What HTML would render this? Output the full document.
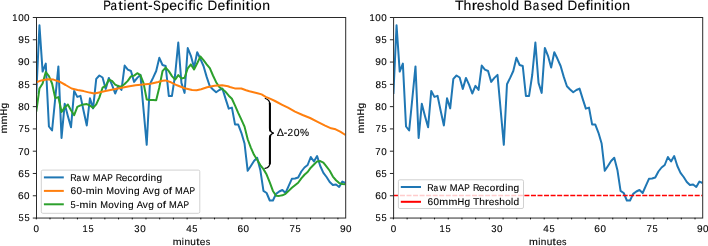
<!DOCTYPE html><html><head><meta charset="utf-8"><style>html,body{margin:0;padding:0;background:#fff;overflow:hidden}svg{display:block}</style></head><body>
<svg width="708" height="246" viewBox="0 0 708 246">
<rect width="708" height="246" fill="#fff"/>
<defs>
<clipPath id="cl"><rect x="36.3" y="17.3" width="309.20" height="200.50"/></clipPath>
<clipPath id="cr"><rect x="393.4" y="17.3" width="309.10" height="200.50"/></clipPath>
</defs>
<g fill="none" stroke="#000" stroke-linecap="round"><path d="M265.3,98.5 C268.4,99.3 269.9,101.3 269.9,104.6 L269.9,128.3 C269.9,131.2 271.4,132.7 273.8,133.2 C271.4,133.7 269.9,135.2 269.9,138.1 L269.9,162.4 C269.9,165.8 268.3,167.7 265.0,168.3" stroke-width="1.25"/><path d="M269.75,102.8 L269.9,105 L269.9,128.3 C269.9,129.6 270.1,130.5 270.5,131.2" stroke-width="2.0" stroke-linecap="butt"/><path d="M270.5,135.2 C270.1,135.9 269.9,136.8 269.9,138.1 L269.9,162.4 L269.75,164.4" stroke-width="2.0" stroke-linecap="butt"/></g>
<g clip-path="url(#cl)" fill="none" stroke-linejoin="round" stroke-width="2">
<polyline points="36.30,93.90 39.45,25.30 42.61,71.60 45.77,63.60 48.92,126.50 52.07,130.50 55.23,98.50 58.38,66.40 61.54,137.90 64.69,103.80 67.85,116.00 71.00,127.30 74.16,90.90 77.31,96.90 80.47,95.90 83.62,111.00 86.78,125.50 89.94,98.30 93.09,108.40 96.24,78.90 99.40,75.50 102.55,77.50 105.71,88.90 108.86,77.90 112.02,84.90 115.17,93.50 118.33,85.90 121.48,89.90 124.64,65.60 127.79,69.60 130.95,71.00 134.10,81.90 137.26,77.90 140.41,74.90 143.57,110.00 146.72,144.80 149.88,84.30 153.03,77.90 156.19,71.00 159.34,57.80 162.50,65.00 165.65,66.00 168.81,95.90 171.96,95.90 175.12,75.00 178.27,42.50 181.43,82.90 184.58,92.90 187.74,48.00 190.89,55.80 194.05,67.60 197.20,52.20 200.36,58.80 203.51,66.00 206.67,76.90 209.82,86.30 212.98,89.50 216.13,92.20 219.29,90.00 222.44,88.60 225.60,98.90 228.75,108.60 231.91,107.60 235.06,124.60 238.22,124.60 241.38,132.80 244.53,143.50 247.69,170.80 250.84,166.00 254.00,161.00 257.15,157.80 260.31,169.90 263.46,190.90 266.62,193.00 269.77,200.50 272.92,200.50 276.08,193.90 279.23,191.50 282.39,190.00 285.54,193.00 288.70,185.90 291.85,178.80 295.01,178.50 298.17,177.50 301.32,171.50 304.48,167.50 307.63,165.00 310.78,157.00 313.94,161.50 317.09,156.00 320.25,166.00 323.40,172.80 326.56,177.00 329.71,182.00 332.87,185.00 336.02,184.50 339.18,187.00 342.33,181.60 345.49,183.00" stroke="#1f77b4"/>
<polyline points="36.30,111.50 39.45,88.50 42.61,83.50 45.77,72.00 48.92,76.18 52.07,83.50 55.23,98.14 58.38,97.10 61.54,111.96 64.69,107.42 67.85,104.52 71.00,110.28 74.16,115.18 77.31,106.98 80.47,105.40 83.62,104.40 86.78,104.04 89.94,105.52 93.09,107.82 96.24,104.42 99.40,97.32 102.55,87.72 105.71,85.84 108.86,79.74 112.02,80.94 115.17,84.54 118.33,86.22 121.48,86.42 124.64,83.96 127.79,80.90 130.95,76.40 134.10,75.60 137.26,73.20 140.41,75.06 143.57,83.14 146.72,99.50 149.88,100.00 153.03,100.00 156.19,100.20 159.34,87.16 162.50,71.20 165.65,67.54 168.81,71.14 171.96,76.12 175.12,79.56 178.27,75.06 181.43,78.44 184.58,77.84 187.74,68.26 190.89,64.42 194.05,69.44 197.20,63.30 200.36,56.48 203.51,60.08 206.67,64.30 209.82,68.04 212.98,75.50 216.13,82.18 219.29,86.98 222.44,89.32 225.60,91.84 228.75,95.66 231.91,98.74 235.06,105.66 238.22,112.86 241.38,119.64 244.53,126.62 247.69,139.26 250.84,147.54 254.00,154.82 257.15,159.82 260.31,165.10 263.46,169.12 266.62,174.52 269.77,182.42 272.92,190.96 276.08,195.76 279.23,195.88 282.39,195.28 285.54,193.78 288.70,190.86 291.85,187.84 295.01,185.24 298.17,182.74 301.32,178.44 304.48,174.76 307.63,172.00 310.78,167.70 313.94,164.50 317.09,161.40 320.25,161.10 323.40,162.66 326.56,166.66 329.71,170.76 332.87,176.56 336.02,180.26 339.18,183.10 342.33,184.02 345.49,184.22" stroke="#2ca02c"/>
<polyline points="36.3,82.2 41.5,80.4 47.5,79.3 53.5,79.6 59.6,81.7 65.6,85.0 71.6,88.5 77.6,90.0 83.6,91.1 89.6,92.6 94.2,93.5 98,92.7 105.5,91.1 113,89.5 120.6,88.0 128.1,86.5 135.6,85.3 143.1,84.6 150.6,83.8 158.2,82.0 162.5,80.8 165.5,80.4 171,82.3 177,85.3 184.6,88.3 192.1,90.0 196.6,90.3 201.1,89.2 207.1,87.3 214.6,85.8 222.2,85.3 228,86.3 229.9,87.0 234.8,88.4 241.3,88.5 246.1,90.2 249.4,91.2 257.5,93.2 261.6,94.4 265.7,96.8 270.5,98.9 275,101.0 282.2,104.8 288,107.7 295,111.7 302.6,115.0 310.1,118.0 317.6,121.8 325.1,125.6 331.1,128.3 335.6,129.3 340.2,131.6 345.5,135.0" stroke="#ff7f0e"/>
</g>
<rect x="36.50" y="17.5" width="309.20" height="200.55" fill="none" stroke="#2a2a2a" stroke-width="1.0"/>
<line x1="32.8" y1="218.05" x2="36.50" y2="218.05" stroke="#2a2a2a" stroke-width="1.0"/>
<line x1="32.8" y1="195.77" x2="36.50" y2="195.77" stroke="#2a2a2a" stroke-width="1.0"/>
<line x1="32.8" y1="173.48" x2="36.50" y2="173.48" stroke="#2a2a2a" stroke-width="1.0"/>
<line x1="32.8" y1="151.20" x2="36.50" y2="151.20" stroke="#2a2a2a" stroke-width="1.0"/>
<line x1="32.8" y1="128.92" x2="36.50" y2="128.92" stroke="#2a2a2a" stroke-width="1.0"/>
<line x1="32.8" y1="106.63" x2="36.50" y2="106.63" stroke="#2a2a2a" stroke-width="1.0"/>
<line x1="32.8" y1="84.35" x2="36.50" y2="84.35" stroke="#2a2a2a" stroke-width="1.0"/>
<line x1="32.8" y1="62.07" x2="36.50" y2="62.07" stroke="#2a2a2a" stroke-width="1.0"/>
<line x1="32.8" y1="39.78" x2="36.50" y2="39.78" stroke="#2a2a2a" stroke-width="1.0"/>
<line x1="32.8" y1="17.50" x2="36.50" y2="17.50" stroke="#2a2a2a" stroke-width="1.0"/>
<line x1="36.30" y1="217.8" x2="36.30" y2="219.4" stroke="#000" stroke-width="0.9"/>
<line x1="50.01" y1="217.8" x2="50.01" y2="219.4" stroke="#000" stroke-width="0.9"/>
<line x1="63.72" y1="217.8" x2="63.72" y2="219.4" stroke="#000" stroke-width="0.9"/>
<line x1="77.43" y1="217.8" x2="77.43" y2="219.4" stroke="#000" stroke-width="0.9"/>
<line x1="91.14" y1="217.8" x2="91.14" y2="219.4" stroke="#000" stroke-width="0.9"/>
<line x1="104.85" y1="217.8" x2="104.85" y2="219.4" stroke="#000" stroke-width="0.9"/>
<line x1="118.56" y1="217.8" x2="118.56" y2="219.4" stroke="#000" stroke-width="0.9"/>
<line x1="132.27" y1="217.8" x2="132.27" y2="219.4" stroke="#000" stroke-width="0.9"/>
<line x1="145.98" y1="217.8" x2="145.98" y2="219.4" stroke="#000" stroke-width="0.9"/>
<line x1="159.69" y1="217.8" x2="159.69" y2="219.4" stroke="#000" stroke-width="0.9"/>
<line x1="173.40" y1="217.8" x2="173.40" y2="219.4" stroke="#000" stroke-width="0.9"/>
<line x1="187.11" y1="217.8" x2="187.11" y2="219.4" stroke="#000" stroke-width="0.9"/>
<line x1="200.82" y1="217.8" x2="200.82" y2="219.4" stroke="#000" stroke-width="0.9"/>
<line x1="214.53" y1="217.8" x2="214.53" y2="219.4" stroke="#000" stroke-width="0.9"/>
<line x1="228.24" y1="217.8" x2="228.24" y2="219.4" stroke="#000" stroke-width="0.9"/>
<line x1="241.95" y1="217.8" x2="241.95" y2="219.4" stroke="#000" stroke-width="0.9"/>
<line x1="255.66" y1="217.8" x2="255.66" y2="219.4" stroke="#000" stroke-width="0.9"/>
<line x1="269.37" y1="217.8" x2="269.37" y2="219.4" stroke="#000" stroke-width="0.9"/>
<line x1="283.08" y1="217.8" x2="283.08" y2="219.4" stroke="#000" stroke-width="0.9"/>
<line x1="296.79" y1="217.8" x2="296.79" y2="219.4" stroke="#000" stroke-width="0.9"/>
<line x1="310.50" y1="217.8" x2="310.50" y2="219.4" stroke="#000" stroke-width="0.9"/>
<line x1="324.21" y1="217.8" x2="324.21" y2="219.4" stroke="#000" stroke-width="0.9"/>
<line x1="337.92" y1="217.8" x2="337.92" y2="219.4" stroke="#000" stroke-width="0.9"/>
<rect x="41.3" y="170.1" width="158.5" height="43.2" rx="1.5" fill="#fff" fill-opacity="0.8" stroke="#ccc" stroke-width="0.9"/>
<line x1="43.9" y1="177.4" x2="63.8" y2="177.4" stroke="#1f77b4" stroke-width="2"/>
<line x1="43.9" y1="190.9" x2="63.8" y2="190.9" stroke="#ff7f0e" stroke-width="2"/>
<line x1="43.9" y1="204.3" x2="63.8" y2="204.3" stroke="#2ca02c" stroke-width="2"/>
<g clip-path="url(#cr)" fill="none" stroke-linejoin="round" stroke-width="2">
<polyline points="393.40,93.90 396.55,25.30 399.71,71.60 402.86,63.60 406.02,126.50 409.17,130.50 412.33,98.50 415.48,66.40 418.64,137.90 421.79,103.80 424.95,116.00 428.10,127.30 431.26,90.90 434.41,96.90 437.57,95.90 440.72,111.00 443.88,125.50 447.03,98.30 450.19,108.40 453.34,78.90 456.50,75.50 459.65,77.50 462.81,88.90 465.96,77.90 469.12,84.90 472.27,93.50 475.43,85.90 478.58,89.90 481.74,65.60 484.89,69.60 488.05,71.00 491.20,81.90 494.36,77.90 497.51,74.90 500.67,110.00 503.82,144.80 506.98,84.30 510.13,77.90 513.29,71.00 516.44,57.80 519.60,65.00 522.75,66.00 525.91,95.90 529.06,95.90 532.22,75.00 535.38,42.50 538.53,82.90 541.68,92.90 544.84,48.00 548.00,55.80 551.15,67.60 554.30,52.20 557.46,58.80 560.62,66.00 563.77,76.90 566.92,86.30 570.08,89.50 573.23,92.20 576.39,90.00 579.54,88.60 582.70,98.90 585.86,108.60 589.01,107.60 592.16,124.60 595.32,124.60 598.47,132.80 601.63,143.50 604.78,170.80 607.94,166.00 611.10,161.00 614.25,157.80 617.40,169.90 620.56,190.90 623.71,193.00 626.87,200.50 630.02,200.50 633.18,193.90 636.33,191.50 639.49,190.00 642.64,193.00 645.80,185.90 648.95,178.80 652.11,178.50 655.26,177.50 658.42,171.50 661.58,167.50 664.73,165.00 667.88,157.00 671.04,161.50 674.19,156.00 677.35,166.00 680.50,172.80 683.66,177.00 686.81,182.00 689.97,185.00 693.12,184.50 696.28,187.00 699.43,181.60 702.59,183.00" stroke="#1f77b4"/>
<line x1="393.4" y1="195.52" x2="702.5" y2="195.52" stroke="#ff0000" stroke-width="1.5" stroke-dasharray="5.0 1.55"/>
</g>
<rect x="393.60" y="17.5" width="309.10" height="200.55" fill="none" stroke="#2a2a2a" stroke-width="1.0"/>
<line x1="389.9" y1="218.05" x2="393.60" y2="218.05" stroke="#2a2a2a" stroke-width="1.0"/>
<line x1="389.9" y1="195.77" x2="393.60" y2="195.77" stroke="#2a2a2a" stroke-width="1.0"/>
<line x1="389.9" y1="173.48" x2="393.60" y2="173.48" stroke="#2a2a2a" stroke-width="1.0"/>
<line x1="389.9" y1="151.20" x2="393.60" y2="151.20" stroke="#2a2a2a" stroke-width="1.0"/>
<line x1="389.9" y1="128.92" x2="393.60" y2="128.92" stroke="#2a2a2a" stroke-width="1.0"/>
<line x1="389.9" y1="106.63" x2="393.60" y2="106.63" stroke="#2a2a2a" stroke-width="1.0"/>
<line x1="389.9" y1="84.35" x2="393.60" y2="84.35" stroke="#2a2a2a" stroke-width="1.0"/>
<line x1="389.9" y1="62.07" x2="393.60" y2="62.07" stroke="#2a2a2a" stroke-width="1.0"/>
<line x1="389.9" y1="39.78" x2="393.60" y2="39.78" stroke="#2a2a2a" stroke-width="1.0"/>
<line x1="389.9" y1="17.50" x2="393.60" y2="17.50" stroke="#2a2a2a" stroke-width="1.0"/>
<line x1="393.40" y1="217.8" x2="393.40" y2="219.4" stroke="#000" stroke-width="0.9"/>
<line x1="407.11" y1="217.8" x2="407.11" y2="219.4" stroke="#000" stroke-width="0.9"/>
<line x1="420.82" y1="217.8" x2="420.82" y2="219.4" stroke="#000" stroke-width="0.9"/>
<line x1="434.53" y1="217.8" x2="434.53" y2="219.4" stroke="#000" stroke-width="0.9"/>
<line x1="448.24" y1="217.8" x2="448.24" y2="219.4" stroke="#000" stroke-width="0.9"/>
<line x1="461.95" y1="217.8" x2="461.95" y2="219.4" stroke="#000" stroke-width="0.9"/>
<line x1="475.66" y1="217.8" x2="475.66" y2="219.4" stroke="#000" stroke-width="0.9"/>
<line x1="489.37" y1="217.8" x2="489.37" y2="219.4" stroke="#000" stroke-width="0.9"/>
<line x1="503.08" y1="217.8" x2="503.08" y2="219.4" stroke="#000" stroke-width="0.9"/>
<line x1="516.79" y1="217.8" x2="516.79" y2="219.4" stroke="#000" stroke-width="0.9"/>
<line x1="530.50" y1="217.8" x2="530.50" y2="219.4" stroke="#000" stroke-width="0.9"/>
<line x1="544.21" y1="217.8" x2="544.21" y2="219.4" stroke="#000" stroke-width="0.9"/>
<line x1="557.92" y1="217.8" x2="557.92" y2="219.4" stroke="#000" stroke-width="0.9"/>
<line x1="571.63" y1="217.8" x2="571.63" y2="219.4" stroke="#000" stroke-width="0.9"/>
<line x1="585.34" y1="217.8" x2="585.34" y2="219.4" stroke="#000" stroke-width="0.9"/>
<line x1="599.05" y1="217.8" x2="599.05" y2="219.4" stroke="#000" stroke-width="0.9"/>
<line x1="612.76" y1="217.8" x2="612.76" y2="219.4" stroke="#000" stroke-width="0.9"/>
<line x1="626.47" y1="217.8" x2="626.47" y2="219.4" stroke="#000" stroke-width="0.9"/>
<line x1="640.18" y1="217.8" x2="640.18" y2="219.4" stroke="#000" stroke-width="0.9"/>
<line x1="653.89" y1="217.8" x2="653.89" y2="219.4" stroke="#000" stroke-width="0.9"/>
<line x1="667.60" y1="217.8" x2="667.60" y2="219.4" stroke="#000" stroke-width="0.9"/>
<line x1="681.31" y1="217.8" x2="681.31" y2="219.4" stroke="#000" stroke-width="0.9"/>
<line x1="695.02" y1="217.8" x2="695.02" y2="219.4" stroke="#000" stroke-width="0.9"/>
<rect x="398.4" y="179.8" width="125.1" height="28.7" rx="1.5" fill="#fff" fill-opacity="0.8" stroke="#ccc" stroke-width="0.9"/>
<line x1="400.8" y1="187.0" x2="421" y2="187.0" stroke="#1f77b4" stroke-width="2"/>
<line x1="400.8" y1="201.8" x2="421" y2="201.8" stroke="#ff0000" stroke-width="2"/>
<g fill="#000" stroke="#000" stroke-width="0.12" style="opacity:0.999" text-rendering="geometricPrecision" font-family="Liberation Sans, sans-serif">
<text transform="translate(18.49,221.35) scale(0.947,1)" font-size="9.80">5</text>
<text transform="translate(24.43,221.35) scale(0.947,1)" font-size="9.80">5</text>
<text transform="translate(18.08,199.07) scale(1.039,1)" font-size="9.80">6</text>
<text transform="translate(24.11,199.07) scale(1.004,1)" font-size="9.80">0</text>
<text transform="translate(18.28,176.78) scale(1.039,1)" font-size="9.80">6</text>
<text transform="translate(24.43,176.78) scale(0.947,1)" font-size="9.80">5</text>
<text transform="translate(18.22,154.50) scale(0.982,1)" font-size="9.80">7</text>
<text transform="translate(24.11,154.50) scale(1.004,1)" font-size="9.80">0</text>
<text transform="translate(18.42,132.22) scale(0.982,1)" font-size="9.80">7</text>
<text transform="translate(24.43,132.22) scale(0.947,1)" font-size="9.80">5</text>
<text transform="translate(18.15,109.93) scale(1.015,1)" font-size="9.80">8</text>
<text transform="translate(24.11,109.93) scale(1.004,1)" font-size="9.80">0</text>
<text transform="translate(18.34,87.65) scale(1.015,1)" font-size="9.80">8</text>
<text transform="translate(24.43,87.65) scale(0.947,1)" font-size="9.80">5</text>
<text transform="translate(18.06,65.37) scale(1.037,1)" font-size="9.80">9</text>
<text transform="translate(24.11,65.37) scale(1.004,1)" font-size="9.80">0</text>
<text transform="translate(18.25,43.08) scale(1.037,1)" font-size="9.80">9</text>
<text transform="translate(24.43,43.08) scale(0.947,1)" font-size="9.80">5</text>
<text transform="translate(12.32,20.80) scale(0.959,1)" font-size="9.80">1</text>
<text transform="translate(18.18,20.80) scale(1.004,1)" font-size="9.80">0</text>
<text transform="translate(24.11,20.80) scale(1.004,1)" font-size="9.80">0</text>
<text transform="translate(33.57,231.70) scale(1.004,1)" font-size="9.80">0</text>
<text transform="translate(82.60,231.70) scale(0.959,1)" font-size="9.80">1</text>
<text transform="translate(88.58,231.70) scale(0.947,1)" font-size="9.80">5</text>
<text transform="translate(134.34,231.70) scale(0.964,1)" font-size="9.80">3</text>
<text transform="translate(140.15,231.70) scale(1.004,1)" font-size="9.80">0</text>
<text transform="translate(186.22,231.70) scale(1.004,1)" font-size="9.80">4</text>
<text transform="translate(192.28,231.70) scale(0.947,1)" font-size="9.80">5</text>
<text transform="translate(237.47,231.70) scale(1.039,1)" font-size="9.80">6</text>
<text transform="translate(243.50,231.70) scale(1.004,1)" font-size="9.80">0</text>
<text transform="translate(289.53,231.70) scale(0.982,1)" font-size="9.80">7</text>
<text transform="translate(295.54,231.70) scale(0.947,1)" font-size="9.80">5</text>
<text transform="translate(339.94,231.70) scale(1.037,1)" font-size="9.80">9</text>
<text transform="translate(346.00,231.70) scale(1.004,1)" font-size="9.80">0</text>
<text transform="translate(375.59,221.35) scale(0.947,1)" font-size="9.80">5</text>
<text transform="translate(381.53,221.35) scale(0.947,1)" font-size="9.80">5</text>
<text transform="translate(375.18,199.07) scale(1.039,1)" font-size="9.80">6</text>
<text transform="translate(381.21,199.07) scale(1.004,1)" font-size="9.80">0</text>
<text transform="translate(375.38,176.78) scale(1.039,1)" font-size="9.80">6</text>
<text transform="translate(381.53,176.78) scale(0.947,1)" font-size="9.80">5</text>
<text transform="translate(375.32,154.50) scale(0.982,1)" font-size="9.80">7</text>
<text transform="translate(381.21,154.50) scale(1.004,1)" font-size="9.80">0</text>
<text transform="translate(375.52,132.22) scale(0.982,1)" font-size="9.80">7</text>
<text transform="translate(381.53,132.22) scale(0.947,1)" font-size="9.80">5</text>
<text transform="translate(375.25,109.93) scale(1.015,1)" font-size="9.80">8</text>
<text transform="translate(381.21,109.93) scale(1.004,1)" font-size="9.80">0</text>
<text transform="translate(375.44,87.65) scale(1.015,1)" font-size="9.80">8</text>
<text transform="translate(381.53,87.65) scale(0.947,1)" font-size="9.80">5</text>
<text transform="translate(375.16,65.37) scale(1.037,1)" font-size="9.80">9</text>
<text transform="translate(381.21,65.37) scale(1.004,1)" font-size="9.80">0</text>
<text transform="translate(375.35,43.08) scale(1.037,1)" font-size="9.80">9</text>
<text transform="translate(381.53,43.08) scale(0.947,1)" font-size="9.80">5</text>
<text transform="translate(369.42,20.80) scale(0.959,1)" font-size="9.80">1</text>
<text transform="translate(375.28,20.80) scale(1.004,1)" font-size="9.80">0</text>
<text transform="translate(381.21,20.80) scale(1.004,1)" font-size="9.80">0</text>
<text transform="translate(390.67,231.70) scale(1.004,1)" font-size="9.80">0</text>
<text transform="translate(439.44,231.70) scale(0.959,1)" font-size="9.80">1</text>
<text transform="translate(445.41,231.70) scale(0.947,1)" font-size="9.80">5</text>
<text transform="translate(491.15,231.70) scale(0.964,1)" font-size="9.80">3</text>
<text transform="translate(496.97,231.70) scale(1.004,1)" font-size="9.80">0</text>
<text transform="translate(543.32,231.70) scale(1.004,1)" font-size="9.80">4</text>
<text transform="translate(549.38,231.70) scale(0.947,1)" font-size="9.80">5</text>
<text transform="translate(594.35,231.70) scale(1.039,1)" font-size="9.80">6</text>
<text transform="translate(600.38,231.70) scale(1.004,1)" font-size="9.80">0</text>
<text transform="translate(646.44,231.70) scale(0.982,1)" font-size="9.80">7</text>
<text transform="translate(652.46,231.70) scale(0.947,1)" font-size="9.80">5</text>
<text transform="translate(696.94,231.70) scale(1.037,1)" font-size="9.80">9</text>
<text transform="translate(703.00,231.70) scale(1.004,1)" font-size="9.80">0</text>
<text transform="translate(172.66,245.10) scale(1.085,1)" font-size="9.80">m</text>
<text transform="translate(181.85,245.10) scale(0.974,1)" font-size="9.80">i</text>
<text transform="translate(184.38,245.10) scale(1.027,1)" font-size="9.80">n</text>
<text transform="translate(190.25,245.10) scale(1.027,1)" font-size="9.80">u</text>
<text transform="translate(196.19,245.10) scale(1.200,1)" font-size="9.80">t</text>
<text transform="translate(199.77,245.10) scale(1.029,1)" font-size="9.80">e</text>
<text transform="translate(205.68,245.10) scale(0.913,1)" font-size="9.80">s</text>
<text transform="translate(529.06,245.10) scale(1.085,1)" font-size="9.80">m</text>
<text transform="translate(538.25,245.10) scale(0.974,1)" font-size="9.80">i</text>
<text transform="translate(540.78,245.10) scale(1.027,1)" font-size="9.80">n</text>
<text transform="translate(546.65,245.10) scale(1.027,1)" font-size="9.80">u</text>
<text transform="translate(552.59,245.10) scale(1.200,1)" font-size="9.80">t</text>
<text transform="translate(556.17,245.10) scale(1.029,1)" font-size="9.80">e</text>
<text transform="translate(562.08,245.10) scale(0.913,1)" font-size="9.80">s</text>
<g transform="translate(7.30,0) rotate(-90)"><text transform="translate(-133.57,0.00) scale(1.085,1)" font-size="9.80">m</text>
<text transform="translate(-124.48,0.00) scale(1.085,1)" font-size="9.80">m</text>
<text transform="translate(-115.38,0.00) scale(0.947,1)" font-size="9.80">H</text>
<text transform="translate(-108.43,0.00) scale(1.035,1)" font-size="9.80">g</text></g>
<g transform="translate(364.40,0) rotate(-90)"><text transform="translate(-133.57,0.00) scale(1.085,1)" font-size="9.80">m</text>
<text transform="translate(-124.48,0.00) scale(1.085,1)" font-size="9.80">m</text>
<text transform="translate(-115.38,0.00) scale(0.947,1)" font-size="9.80">H</text>
<text transform="translate(-108.43,0.00) scale(1.035,1)" font-size="9.80">g</text></g>
<text transform="translate(103.19,10.30) scale(0.850,1)" font-size="13.62">P</text>
<text transform="translate(110.41,10.30) scale(0.856,1)" font-size="13.62">a</text>
<text transform="translate(118.30,10.30) scale(1.200,1)" font-size="13.62">t</text>
<text transform="translate(123.50,10.30) scale(0.974,1)" font-size="13.62">i</text>
<text transform="translate(126.89,10.30) scale(1.029,1)" font-size="13.62">e</text>
<text transform="translate(134.99,10.30) scale(1.027,1)" font-size="13.62">n</text>
<text transform="translate(143.19,10.30) scale(1.200,1)" font-size="13.62">t</text>
<text transform="translate(148.06,10.30) scale(1.027,1)" font-size="13.62">-</text>
<text transform="translate(153.06,10.30) scale(0.850,1)" font-size="13.62">S</text>
<text transform="translate(161.23,10.30) scale(1.036,1)" font-size="13.62">p</text>
<text transform="translate(169.32,10.30) scale(1.029,1)" font-size="13.62">e</text>
<text transform="translate(177.34,10.30) scale(0.956,1)" font-size="13.62">c</text>
<text transform="translate(184.64,10.30) scale(0.974,1)" font-size="13.62">i</text>
<text transform="translate(188.07,10.30) scale(1.200,1)" font-size="13.62">f</text>
<text transform="translate(192.81,10.30) scale(0.974,1)" font-size="13.62">i</text>
<text transform="translate(196.24,10.30) scale(0.956,1)" font-size="13.62">c</text>
<text transform="translate(207.51,10.30) scale(0.985,1)" font-size="13.62">D</text>
<text transform="translate(217.44,10.30) scale(1.029,1)" font-size="13.62">e</text>
<text transform="translate(225.46,10.30) scale(1.200,1)" font-size="13.62">f</text>
<text transform="translate(230.20,10.30) scale(0.974,1)" font-size="13.62">i</text>
<text transform="translate(233.72,10.30) scale(1.027,1)" font-size="13.62">n</text>
<text transform="translate(242.03,10.30) scale(0.974,1)" font-size="13.62">i</text>
<text transform="translate(245.52,10.30) scale(1.200,1)" font-size="13.62">t</text>
<text transform="translate(250.72,10.30) scale(0.974,1)" font-size="13.62">i</text>
<text transform="translate(254.12,10.30) scale(1.012,1)" font-size="13.62">o</text>
<text transform="translate(262.17,10.30) scale(1.027,1)" font-size="13.62">n</text>
<text transform="translate(455.07,10.30) scale(1.039,1)" font-size="13.62">T</text>
<text transform="translate(463.55,10.30) scale(1.034,1)" font-size="13.62">h</text>
<text transform="translate(471.70,10.30) scale(1.200,1)" font-size="13.62">r</text>
<text transform="translate(476.74,10.30) scale(1.029,1)" font-size="13.62">e</text>
<text transform="translate(484.95,10.30) scale(0.913,1)" font-size="13.62">s</text>
<text transform="translate(491.56,10.30) scale(1.034,1)" font-size="13.62">h</text>
<text transform="translate(499.71,10.30) scale(1.012,1)" font-size="13.62">o</text>
<text transform="translate(507.84,10.30) scale(0.974,1)" font-size="13.62">l</text>
<text transform="translate(511.24,10.30) scale(1.035,1)" font-size="13.62">d</text>
<text transform="translate(523.71,10.30) scale(0.925,1)" font-size="13.62">B</text>
<text transform="translate(532.65,10.30) scale(0.856,1)" font-size="13.62">a</text>
<text transform="translate(540.67,10.30) scale(0.913,1)" font-size="13.62">s</text>
<text transform="translate(547.19,10.30) scale(1.029,1)" font-size="13.62">e</text>
<text transform="translate(555.18,10.30) scale(1.035,1)" font-size="13.62">d</text>
<text transform="translate(567.58,10.30) scale(0.985,1)" font-size="13.62">D</text>
<text transform="translate(577.52,10.30) scale(1.029,1)" font-size="13.62">e</text>
<text transform="translate(585.53,10.30) scale(1.200,1)" font-size="13.62">f</text>
<text transform="translate(590.28,10.30) scale(0.974,1)" font-size="13.62">i</text>
<text transform="translate(593.79,10.30) scale(1.027,1)" font-size="13.62">n</text>
<text transform="translate(602.10,10.30) scale(0.974,1)" font-size="13.62">i</text>
<text transform="translate(605.60,10.30) scale(1.200,1)" font-size="13.62">t</text>
<text transform="translate(610.79,10.30) scale(0.974,1)" font-size="13.62">i</text>
<text transform="translate(614.19,10.30) scale(1.012,1)" font-size="13.62">o</text>
<text transform="translate(622.24,10.30) scale(1.027,1)" font-size="13.62">n</text>
<text transform="translate(70.17,180.80) scale(0.911,1)" font-size="9.80">R</text>
<text transform="translate(76.47,180.80) scale(0.856,1)" font-size="9.80">a</text>
<text transform="translate(82.38,180.80) scale(0.963,1)" font-size="9.80">w</text>
<text transform="translate(92.73,180.80) scale(0.950,1)" font-size="9.80">M</text>
<text transform="translate(100.68,180.80) scale(0.959,1)" font-size="9.80">A</text>
<text transform="translate(107.22,180.80) scale(0.850,1)" font-size="9.80">P</text>
<text transform="translate(115.78,180.80) scale(0.911,1)" font-size="9.80">R</text>
<text transform="translate(121.75,180.80) scale(1.029,1)" font-size="9.80">e</text>
<text transform="translate(127.52,180.80) scale(0.956,1)" font-size="9.80">c</text>
<text transform="translate(132.63,180.80) scale(1.012,1)" font-size="9.80">o</text>
<text transform="translate(138.33,180.80) scale(1.200,1)" font-size="9.80">r</text>
<text transform="translate(142.00,180.80) scale(1.035,1)" font-size="9.80">d</text>
<text transform="translate(148.08,180.80) scale(0.974,1)" font-size="9.80">i</text>
<text transform="translate(150.61,180.80) scale(1.027,1)" font-size="9.80">n</text>
<text transform="translate(156.43,180.80) scale(1.035,1)" font-size="9.80">g</text>
<text transform="translate(70.38,194.30) scale(1.039,1)" font-size="9.80">6</text>
<text transform="translate(76.42,194.30) scale(1.004,1)" font-size="9.80">0</text>
<text transform="translate(82.13,194.30) scale(1.027,1)" font-size="9.80">-</text>
<text transform="translate(85.63,194.30) scale(1.085,1)" font-size="9.80">m</text>
<text transform="translate(94.82,194.30) scale(0.974,1)" font-size="9.80">i</text>
<text transform="translate(97.35,194.30) scale(1.027,1)" font-size="9.80">n</text>
<text transform="translate(106.20,194.30) scale(0.950,1)" font-size="9.80">M</text>
<text transform="translate(114.20,194.30) scale(1.012,1)" font-size="9.80">o</text>
<text transform="translate(120.05,194.30) scale(1.028,1)" font-size="9.80">v</text>
<text transform="translate(125.57,194.30) scale(0.974,1)" font-size="9.80">i</text>
<text transform="translate(128.10,194.30) scale(1.027,1)" font-size="9.80">n</text>
<text transform="translate(133.92,194.30) scale(1.035,1)" font-size="9.80">g</text>
<text transform="translate(142.77,194.30) scale(0.959,1)" font-size="9.80">A</text>
<text transform="translate(148.80,194.30) scale(1.028,1)" font-size="9.80">v</text>
<text transform="translate(154.17,194.30) scale(1.035,1)" font-size="9.80">g</text>
<text transform="translate(163.06,194.30) scale(1.012,1)" font-size="9.80">o</text>
<text transform="translate(168.79,194.30) scale(1.200,1)" font-size="9.80">f</text>
<text transform="translate(175.08,194.30) scale(0.950,1)" font-size="9.80">M</text>
<text transform="translate(183.03,194.30) scale(0.959,1)" font-size="9.80">A</text>
<text transform="translate(189.57,194.30) scale(0.850,1)" font-size="9.80">P</text>
<text transform="translate(70.53,207.80) scale(0.947,1)" font-size="9.80">5</text>
<text transform="translate(76.12,207.80) scale(1.027,1)" font-size="9.80">-</text>
<text transform="translate(79.62,207.80) scale(1.085,1)" font-size="9.80">m</text>
<text transform="translate(88.81,207.80) scale(0.974,1)" font-size="9.80">i</text>
<text transform="translate(91.34,207.80) scale(1.027,1)" font-size="9.80">n</text>
<text transform="translate(100.20,207.80) scale(0.950,1)" font-size="9.80">M</text>
<text transform="translate(108.19,207.80) scale(1.012,1)" font-size="9.80">o</text>
<text transform="translate(114.04,207.80) scale(1.028,1)" font-size="9.80">v</text>
<text transform="translate(119.56,207.80) scale(0.974,1)" font-size="9.80">i</text>
<text transform="translate(122.09,207.80) scale(1.027,1)" font-size="9.80">n</text>
<text transform="translate(127.92,207.80) scale(1.035,1)" font-size="9.80">g</text>
<text transform="translate(136.77,207.80) scale(0.959,1)" font-size="9.80">A</text>
<text transform="translate(142.79,207.80) scale(1.028,1)" font-size="9.80">v</text>
<text transform="translate(148.16,207.80) scale(1.035,1)" font-size="9.80">g</text>
<text transform="translate(157.06,207.80) scale(1.012,1)" font-size="9.80">o</text>
<text transform="translate(162.78,207.80) scale(1.200,1)" font-size="9.80">f</text>
<text transform="translate(169.07,207.80) scale(0.950,1)" font-size="9.80">M</text>
<text transform="translate(177.02,207.80) scale(0.959,1)" font-size="9.80">A</text>
<text transform="translate(183.56,207.80) scale(0.850,1)" font-size="9.80">P</text>
<text transform="translate(427.27,190.70) scale(0.911,1)" font-size="9.80">R</text>
<text transform="translate(433.57,190.70) scale(0.856,1)" font-size="9.80">a</text>
<text transform="translate(439.48,190.70) scale(0.963,1)" font-size="9.80">w</text>
<text transform="translate(449.83,190.70) scale(0.950,1)" font-size="9.80">M</text>
<text transform="translate(457.78,190.70) scale(0.959,1)" font-size="9.80">A</text>
<text transform="translate(464.32,190.70) scale(0.850,1)" font-size="9.80">P</text>
<text transform="translate(472.88,190.70) scale(0.911,1)" font-size="9.80">R</text>
<text transform="translate(478.85,190.70) scale(1.029,1)" font-size="9.80">e</text>
<text transform="translate(484.62,190.70) scale(0.956,1)" font-size="9.80">c</text>
<text transform="translate(489.73,190.70) scale(1.012,1)" font-size="9.80">o</text>
<text transform="translate(495.43,190.70) scale(1.200,1)" font-size="9.80">r</text>
<text transform="translate(499.10,190.70) scale(1.035,1)" font-size="9.80">d</text>
<text transform="translate(505.18,190.70) scale(0.974,1)" font-size="9.80">i</text>
<text transform="translate(507.71,190.70) scale(1.027,1)" font-size="9.80">n</text>
<text transform="translate(513.53,190.70) scale(1.035,1)" font-size="9.80">g</text>
<text transform="translate(427.48,205.10) scale(1.039,1)" font-size="9.80">6</text>
<text transform="translate(433.52,205.10) scale(1.004,1)" font-size="9.80">0</text>
<text transform="translate(439.36,205.10) scale(1.085,1)" font-size="9.80">m</text>
<text transform="translate(448.45,205.10) scale(1.085,1)" font-size="9.80">m</text>
<text transform="translate(457.55,205.10) scale(0.947,1)" font-size="9.80">H</text>
<text transform="translate(464.50,205.10) scale(1.035,1)" font-size="9.80">g</text>
<text transform="translate(473.05,205.10) scale(1.039,1)" font-size="9.80">T</text>
<text transform="translate(479.15,205.10) scale(1.034,1)" font-size="9.80">h</text>
<text transform="translate(485.01,205.10) scale(1.200,1)" font-size="9.80">r</text>
<text transform="translate(488.63,205.10) scale(1.029,1)" font-size="9.80">e</text>
<text transform="translate(494.54,205.10) scale(0.913,1)" font-size="9.80">s</text>
<text transform="translate(499.29,205.10) scale(1.034,1)" font-size="9.80">h</text>
<text transform="translate(505.16,205.10) scale(1.012,1)" font-size="9.80">o</text>
<text transform="translate(511.00,205.10) scale(0.974,1)" font-size="9.80">l</text>
<text transform="translate(513.45,205.10) scale(1.035,1)" font-size="9.80">d</text>
<text transform="translate(276.68,136.20) scale(1.046,1)" font-size="10.40">Δ</text>
<text transform="translate(283.70,136.20) scale(1.027,1)" font-size="10.40">-</text>
<text transform="translate(287.49,136.20) scale(0.968,1)" font-size="10.40">2</text>
<text transform="translate(293.81,136.20) scale(1.004,1)" font-size="10.40">0</text>
<text transform="translate(300.05,136.20) scale(0.978,1)" font-size="10.40">%</text>
</g>
</svg></body></html>
